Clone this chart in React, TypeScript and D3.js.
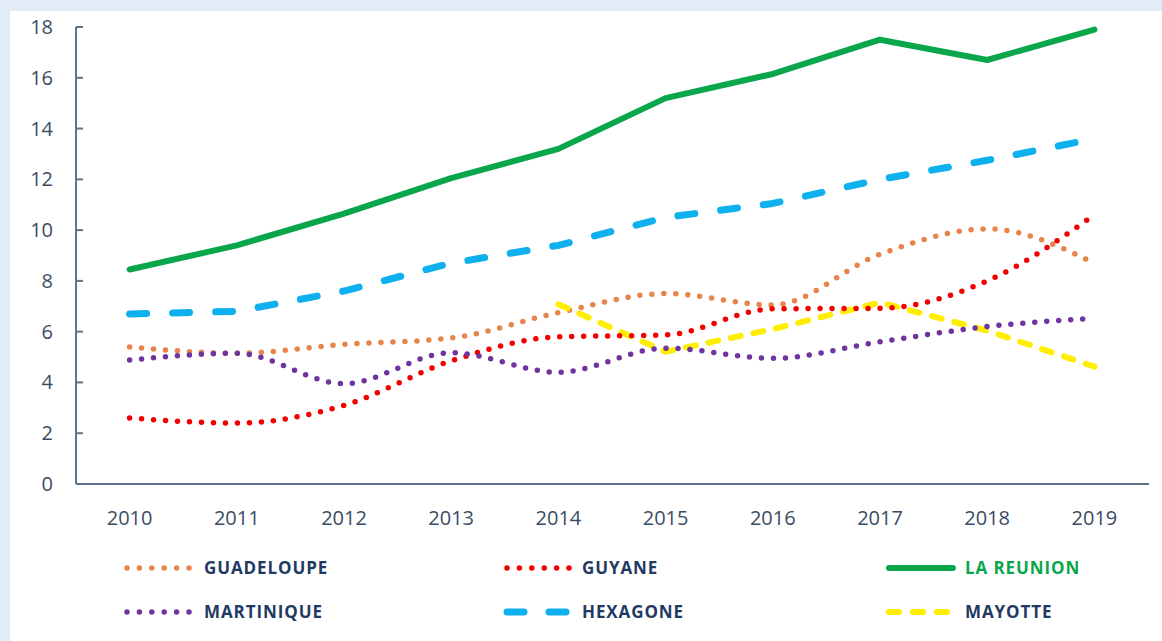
import React from "react";
import * as d3 from "d3";

const years = ["2010", "2011", "2012", "2013", "2014", "2015", "2016", "2017", "2018", "2019"];
const yTicks = [0, 2, 4, 6, 8, 10, 12, 14, 16, 18];

const guadeloupe = [5.4, 5.15, 5.5, 5.75, 6.75, 7.5, 7.05, 9.05, 10.05, 8.7];
const guyane = [2.6, 2.4, 3.1, 4.85, 5.8, 5.87, 6.9, 6.92, 8.0, 10.6];
const laReunion = [8.45, 9.4, 10.65, 12.05, 13.2, 15.2, 16.15, 17.5, 16.7, 17.9];
const martinique = [4.88, 5.15, 3.95, 5.17, 4.4, 5.35, 4.95, 5.6, 6.2, 6.53];
const hexagone = [6.7, 6.8, 7.6, 8.7, 9.4, 10.5, 11.05, 12.0, 12.75, 13.6];
const mayotte = [null, null, null, null, 7.08, 5.21, 6.1, 7.15, 6.04, 4.62];

type Series = {
  name: string;
  values: (number | null)[];
  color: string;
  width: number;
  dash: string;
  legendDash: string;
  textColor: string;
  smooth: boolean;
};

const series: Series[] = [
  { name: "GUADELOUPE", values: guadeloupe, color: "#e8844a", width: 5.5, dash: "0 12", legendDash: "0 12.4", textColor: "#1f3a63", smooth: true },
  { name: "GUYANE", values: guyane, color: "#f20000", width: 5.5, dash: "0 12", legendDash: "0 12.4", textColor: "#1f3a63", smooth: true },
  { name: "LA REUNION", values: laReunion, color: "#0aa64b", width: 6, dash: "none", legendDash: "none", textColor: "#0aa64b", smooth: false },
  { name: "MARTINIQUE", values: martinique, color: "#7034a0", width: 5.5, dash: "0 12", legendDash: "0 12.4", textColor: "#1f3a63", smooth: true },
  { name: "HEXAGONE", values: hexagone, color: "#0fb0ee", width: 7, dash: "17 26", legendDash: "17 25", textColor: "#1f3a63", smooth: false },
  { name: "MAYOTTE", values: mayotte, color: "#ffee00", width: 6, dash: "10 13", legendDash: "10 14", textColor: "#1f3a63", smooth: false },
];

const drawOrder = ["HEXAGONE", "LA REUNION", "GUADELOUPE", "MAYOTTE", "GUYANE", "MARTINIQUE"];

const W = 1162;
const H = 641;

export default function App() {
  const x = d3.scalePoint<string>().domain(years).range([76, 1148]).padding(0.5);
  const y = d3.scaleLinear().domain([0, 18]).range([484, 27]);

  const makeLine = (smooth: boolean) =>
    d3
      .line<number | null>()
      .defined((d) => d !== null)
      .x((_, i) => x(years[i]) as number)
      .y((d) => y(d as number))
      .curve(smooth ? d3.curveMonotoneX : d3.curveLinear);

  const font = "'Open Sans', sans-serif";
  const tickColor = "#3a4c64";
  const axisColor = "#5d7390";

  // legend layout: 3 columns x 2 rows
  const legendCols = [{ sx: 127, tx: 204 }, { sx: 507, tx: 582 }, { sx: 889, tx: 965 }];
  const legendRows = [568, 612];

  return (
    <svg width={W} height={H} style={{ position: "absolute", left: 0, top: 0 }}>
      <rect x={0} y={0} width={W} height={H} fill="#e2ecf8" />
      <rect x={10} y={11} width={W - 10} height={H - 11} fill="#ffffff" />

      {/* y axis */}
      <line x1={76} x2={76} y1={y(18)} y2={y(0)} stroke={axisColor} strokeWidth={2} />
      {yTicks.map((t) => (
        <g key={t}>
          <line x1={76} x2={83} y1={y(t)} y2={y(t)} stroke={axisColor} strokeWidth={2} />
          <text x={53} y={y(t)} dy="0.35em" textAnchor="end" fontFamily={font} fontSize={20} fill={tickColor}>
            {t}
          </text>
        </g>
      ))}

      {/* x axis */}
      <line x1={76} x2={1149} y1={y(0)} y2={y(0)} stroke={axisColor} strokeWidth={2} />
      {years.map((yr) => (
        <text key={yr} x={x(yr)} y={518} dy="0.35em" textAnchor="middle" fontFamily={font} fontSize={20} fill={tickColor}>
          {yr}
        </text>
      ))}

      {/* series */}
      {drawOrder.map((n) => {
        const s = series.find((d) => d.name === n)!;
        return (
          <path
            key={s.name}
            d={makeLine(s.smooth)(s.values) || ""}
            fill="none"
            stroke={s.color}
            strokeWidth={s.width}
            strokeLinecap="round"
            strokeLinejoin="round"
            strokeDasharray={s.dash}
          />
        );
      })}

      {/* legend */}
      {series.map((s, i) => {
        const col = legendCols[i % 3];
        const ry = legendRows[Math.floor(i / 3)];
        return (
          <g key={s.name}>
            <line
              x1={col.sx}
              x2={col.sx + 64}
              y1={ry}
              y2={ry}
              stroke={s.color}
              strokeWidth={s.width}
              strokeLinecap="round"
              strokeDasharray={s.legendDash}
            />
            <text
              x={col.tx}
              y={ry}
              dy="0.36em"
              fontFamily={font}
              fontWeight={700}
              fontSize={17}
              letterSpacing={0.9}
              fill={s.textColor}
            >
              {s.name}
            </text>
          </g>
        );
      })}
    </svg>
  );
}
